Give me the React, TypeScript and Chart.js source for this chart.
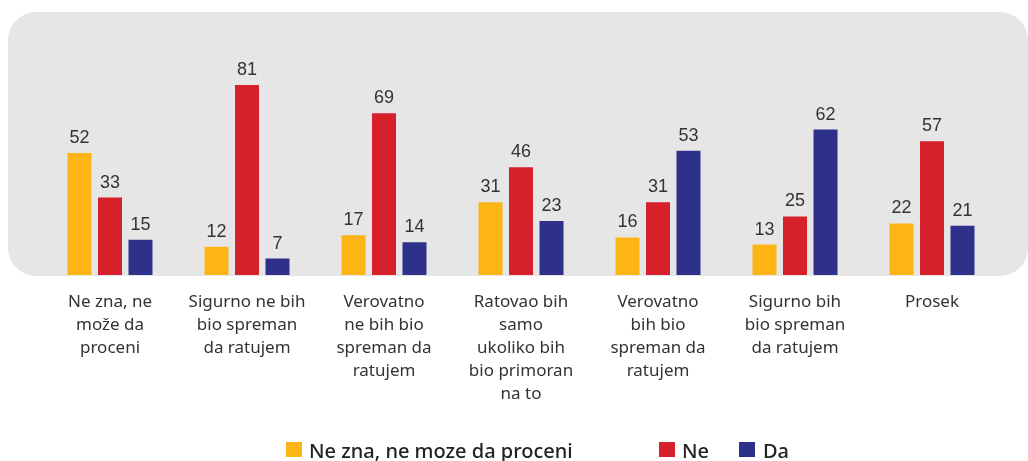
import React, { useEffect, useRef } from "react";
import { Chart, registerables } from "chart.js";

Chart.register(...registerables);

const categories: string[][] = [
  ["Ne zna, ne", "može da", "proceni"],
  ["Sigurno ne bih", "bio spreman", "da ratujem"],
  ["Verovatno", "ne bih bio", "spreman da", "ratujem"],
  ["Ratovao bih", "samo", "ukoliko bih", "bio primoran", "na to"],
  ["Verovatno", "bih bio", "spreman da", "ratujem"],
  ["Sigurno bih", "bio spreman", "da ratujem"],
  ["Prosek"],
];
const seriesNames = ["Ne zna, ne moze da proceni", "Ne", "Da"];
const neZnaValues = [52, 12, 17, 31, 16, 13, 22];
const neValues = [33, 81, 69, 46, 31, 25, 57];
const daValues = [15, 7, 14, 23, 53, 62, 21];
const seriesColors = ["#fdb515", "#d6202a", "#2e3189"];

const W = 1028;
const H = 461;
const LABEL_FONT = "'Noto Sans', sans-serif";
const VALUE_FONT = "'Liberation Sans', Arial, sans-serif";

const panelPlugin = {
  id: "panel",
  beforeDraw(chart: any) {
    const ctx = chart.ctx;
    ctx.save();
    ctx.fillStyle = "#e6e6e6";
    ctx.beginPath();
    ctx.roundRect(8, 12, 1020, chart.chartArea.bottom + 1 - 12, 28);
    ctx.fill();
    ctx.restore();
  },
};

const valueLabelPlugin = {
  id: "valueLabels",
  afterDatasetsDraw(chart: any) {
    const ctx = chart.ctx;
    ctx.save();
    ctx.font = `18px ${VALUE_FONT}`;
    ctx.fillStyle = "#333333";
    ctx.textAlign = "center";
    ctx.textBaseline = "alphabetic";
    chart.data.datasets.forEach((ds: any, i: number) => {
      const meta = chart.getDatasetMeta(i);
      meta.data.forEach((bar: any, j: number) => {
        ctx.fillText(String(ds.data[j]), bar.x, bar.y - 10);
      });
    });
    ctx.restore();
  },
};

const legendPlugin = {
  id: "customLegend",
  afterDraw(chart: any) {
    const ctx = chart.ctx;
    const items = [
      { sq: 286, tx: 309 },
      { sq: 659, tx: 682 },
      { sq: 739, tx: 763 },
    ];
    ctx.save();
    ctx.font = `500 20px ${LABEL_FONT}`;
    ctx.textAlign = "left";
    ctx.textBaseline = "alphabetic";
    chart.data.datasets.forEach((ds: any, i: number) => {
      const it = items[i];
      ctx.fillStyle = ds.backgroundColor;
      ctx.fillRect(it.sq, 442, 16, 15);
      ctx.fillStyle = "#222222";
      ctx.fillText(ds.label, it.tx, 458);
    });
    ctx.restore();
  },
};

export default function App() {
  const ref = useRef<HTMLCanvasElement | null>(null);
  useEffect(() => {
    if (!ref.current) return;
    const chart = new Chart(ref.current, {
      type: "bar",
      data: {
        labels: categories,
        datasets: [neZnaValues, neValues, daValues].map((d, i) => ({
          label: seriesNames[i],
          data: d,
          backgroundColor: seriesColors[i],
          categoryPercentage: 0.668,
          barPercentage: 0.787,
        })),
      },
      options: {
        responsive: false,
        animation: false,
        layout: { padding: { left: 41.5, right: 27.5, top: 40.5, bottom: 0 } },
        plugins: {
          legend: { display: false },
          tooltip: { enabled: false },
        },
        scales: {
          y: { display: false, min: 0, max: 100 },
          x: {
            grid: { display: false, drawTicks: false },
            border: { display: false },
            ticks: {
              autoSkip: false,
              maxRotation: 0,
              minRotation: 0,
              padding: 16,
              color: "#333333",
              font: { family: LABEL_FONT, size: 17, lineHeight: 23 / 17 },
            },
            afterFit(scale: any) {
              scale.height = H - 275;
            },
          },
        },
      },
      plugins: [panelPlugin, valueLabelPlugin, legendPlugin],
    });
    return () => chart.destroy();
  }, []);
  return (
    <div style={{ position: "absolute", left: 0, top: 0, width: W, height: H }}>
      <canvas ref={ref} width={W} height={H} style={{ width: W, height: H, display: "block" }} />
    </div>
  );
}
